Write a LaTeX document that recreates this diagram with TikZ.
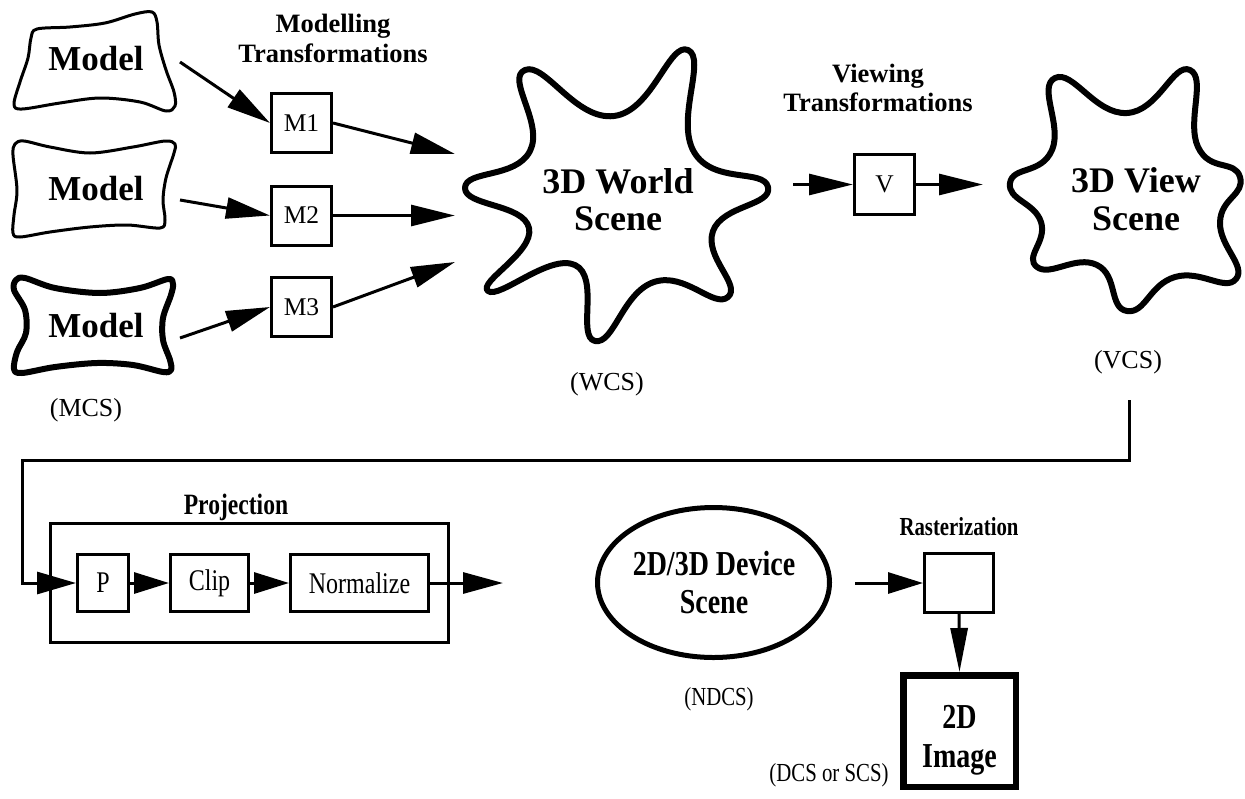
\documentclass[tikz,border=0pt]{standalone}
\usepackage{fontspec}
\setmainfont{Liberation Serif}
\newfontfamily\condg[FakeStretch=0.8]{Liberation Serif}
\usetikzlibrary{arrows.meta,shapes.geometric}
\begin{document}
\begin{tikzpicture}[x=1pt,y=-1pt,
  blob/.style={line width=3pt, line join=round},
  star/.style={line width=6pt, line join=round},
  tbox/.style={draw, line width=3pt, inner sep=0pt, minimum width=60pt, minimum height=59pt, font=\fontsize{25.5}{28}\selectfont},
  bbox/.style={draw, line width=3pt, inner sep=0pt, minimum height=57pt, font=\condg\fontsize{30}{32}\selectfont},
  arr/.style={line width=3pt, -{Triangle[length=44pt,width=21pt]}},
  sarr/.style={line width=3pt, -{Triangle[length=35pt,width=21pt]}},
  modl/.style={anchor=base, inner sep=0pt, font=\fontsize{35}{40}\selectfont\bfseries},
  ttl/.style={anchor=base, inner sep=0pt, font=\fontsize{26.5}{30}\selectfont\bfseries},
  cttl/.style={anchor=base, inner sep=0pt, font=\condg\fontsize{29.5}{32}\selectfont\bfseries},
  big/.style={anchor=base, inner sep=0pt, font=\fontsize{36}{40}\selectfont\bfseries},
  cbig/.style={anchor=base, inner sep=0pt, font=\condg\fontsize{35}{38}\selectfont\bfseries},
  cs/.style={inner sep=0pt, font=\fontsize{26}{30}\selectfont},
  ccs/.style={inner sep=0pt, font=\condg\fontsize{26}{30}\selectfont}
]
\useasboundingbox (0,0) rectangle (1245,798);

% ---------- models ----------
\draw[blob] plot[smooth cycle, tension=0.55] coordinates {
  (31,38) (37,29) (70,27) (105,23) (135,14) (152,12) (157,22) (159,45)
  (166,70) (174,92) (175,106) (166,111) (140,102) (100,98) (60,103)
  (22,109) (14,104) (20,82) (28,58)};
\node[modl] (mod1) at (96,70) {Model};

\draw[blob] plot[smooth cycle, tension=0.55] coordinates {
  (13,155) (15,144) (24,141) (50,147) (90,153) (133,147) (165,141)
  (175,144) (174,153) (166,178) (163,200) (165,220) (160,228) (127,225)
  (90,227) (50,232) (20,237) (13,233) (14,215) (17,190)};
\node[modl] (mod2) at (96,200) {Model};

\draw[star] plot[smooth cycle, tension=0.55] coordinates {
  (14,290) (16,280) (25,278) (55,288) (100,293) (140,288) (168,279)
  (173,284) (171,295) (163,318) (163,340) (170,360) (171,370) (163,372)
  (133,365) (97,363) (55,367) (22,373) (14,369) (17,352) (26,333) (25,310)};
\node[modl] (mod3) at (96,337) {Model};

\node[cs] (mcs) at (86,410) {(MCS)};

% ---------- modelling transformations ----------
\node[ttl] (mt1) at (333,32) {Modelling};
\node[ttl] (mt2) at (333,62) {Transformations};
\node[tbox] (M1) at (301.5,123) {M1};
\node[tbox] (M2) at (301.5,215.5) {M2};
\node[tbox] (M3) at (301.5,307) {M3};

\coordinate (s1) at (180,62);
\coordinate (s2) at (180,200);
\coordinate (s3) at (180,338);
\coordinate (w1) at (455,154);
\coordinate (w2) at (455,215.5);
\coordinate (w3) at (455,262);
\draw[arr] (s1) -- (M1.west);
\draw[arr] (s2) -- (M2.west);
\draw[arr] (s3) -- (M3.west);
\draw[arr] (M1.east) -- (w1);
\draw[arr] (M2.east) -- (w2);
\draw[arr] (M3.east) -- (w3);

% ---------- world scene ----------
\draw[star] plot[smooth cycle, tension=0.85] coordinates {
  (525,70) (614,116) (688,50) (694,152) (768,187) (713,231) (728,297)
  (654,282) (595,341) (575,265) (488,291) (529,228) (465,188) (530,151)};
\node[big] (world1) at (618,193) {3D World};
\node[big] (world2) at (618,230) {Scene};
\node[cs] (wcs) at (607,384) {(WCS)};

% ---------- viewing ----------
\node[ttl] (vt1) at (878,82) {Viewing};
\node[ttl] (vt2) at (878,111) {Transformations};
\node[tbox, minimum height=60pt] (V) at (884.5,184.5) {V};
\coordinate (vin) at (793,184.5);
\coordinate (vout) at (983,184.5);
\draw[arr] (vin) -- (V.west);
\draw[arr] (V.east) -- (vout);

% ---------- view scene ----------
\draw[star] plot[smooth cycle, tension=0.85] coordinates {
  (1055,78) (1127,113) (1190,70) (1198,147) (1240,177) (1220,222)
  (1236,279) (1175,277) (1127,311) (1097,265) (1037,267) (1041,222)
  (1010,183) (1052,150)};
\node[big] (view1) at (1136,192) {3D View};
\node[big] (view2) at (1136,230) {Scene};
\node[cs] (vcs) at (1128,362) {(VCS)};

% ---------- projection ----------
\node[draw, line width=3pt, minimum width=398pt, minimum height=119pt, inner sep=0pt] (proj) at (249.5,583) {};
\node[cttl] (projt) at (236,514) {Projection};
\node[bbox, minimum width=51pt] (P) at (103,583) {P};
\node[bbox, minimum width=78pt] (Clip) at (209.5,583) {Clip};
\node[bbox, minimum width=138pt] (Norm) at (359.5,583) {Normalize};

\coordinate (c0) at (1129,400);
\coordinate (c1) at (22,460);
\draw[line width=3pt, -{Triangle[length=39pt,width=22pt]}] (c0) |- (c1) |- (P.west);
\draw[sarr] (P.east) -- (Clip.west);
\draw[sarr] (Clip.east) -- (Norm.west);
\coordinate (nout) at (503,583);
\draw[line width=3pt, -{Triangle[length=40pt,width=21pt]}] (Norm.east) -- (nout);

% ---------- device scene ----------
\node[draw, ellipse, line width=5pt, minimum width=232pt, minimum height=150pt, inner sep=0pt] (dev) at (713.5,582.5) {};
\node[cbig] (dev1) at (714,575) {2D/3D Device};
\node[cbig] (dev2) at (714,613) {Scene};
\node[ccs] (ndcs) at (719,699) {(NDCS)};

% ---------- rasterization ----------
\node[cttl, font=\condg\fontsize{26}{30}\selectfont\bfseries] (rast) at (959,535) {Rasterization};
\node[draw, line width=3pt, minimum width=69pt, minimum height=59pt, inner sep=0pt] (R) at (959,583) {};
\coordinate (rin) at (855,583);
\draw[sarr] (rin) -- (R.west);

\node[draw, line width=6.5pt, minimum width=112.5pt, minimum height=111.5pt, inner sep=0pt] (img) at (959.5,731) {};
\node[cbig] (img1) at (959.5,728) {2D};
\node[cbig] (img2) at (959.5,767) {Image};
\draw[line width=3pt, -{Triangle[length=44pt,width=17pt]}] (R.south) -- (img.north);
\node[ccs] (dcs) at (829,775) {(DCS or SCS)};
\end{tikzpicture}
\end{document}
